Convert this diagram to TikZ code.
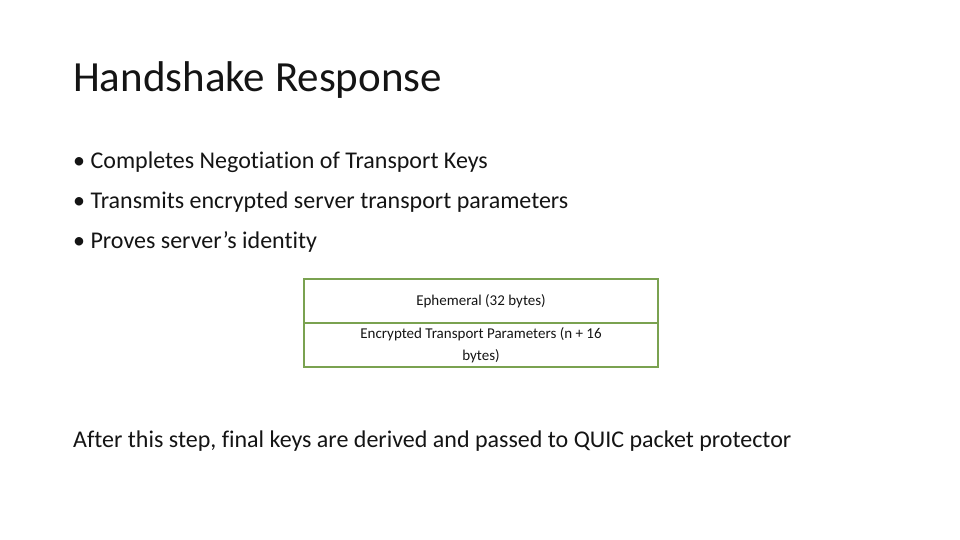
\documentclass[tikz,border=0pt]{standalone}
\usepackage{fontspec}
\setmainfont{Carlito}[Ligatures=NoCommon]
\definecolor{tgreen}{RGB}{122,162,80}
\definecolor{txt}{RGB}{20,20,20}
\begin{document}
\begin{tikzpicture}[x=1pt,y=-1pt,
  cell/.style={draw=tgreen,line width=1.5pt,minimum width=354pt,minimum height=44pt,inner sep=0pt,font=\fontsize{15}{22}\selectfont,align=center,text=txt},
  body/.style={anchor=west,inner sep=0pt,font=\fontsize{24}{28}\selectfont,text=txt}]
\useasboundingbox (0,0) rectangle (960,540);
\node[anchor=west,inner sep=0pt,font=\fontsize{43}{50}\selectfont,text=txt] (title) at (73,80) {Handshake Response};
\node[body] (b1) at (73,162) {•\ Completes Negotiation of Transport Keys};
\node[body] (b2) at (73,202) {•\ Transmits encrypted server transport parameters};
\node[body] (b3) at (73,242) {•\ Proves server’s identity};
\node[cell] (c1) at (481,301) {Ephemeral (32 bytes)};
\node[cell] (c2) at (481,345) {Encrypted Transport Parameters (n + 16\\bytes)};
\node[body] (foot) at (73,441) {After this step, final keys are derived and passed to QUIC packet protector};
\end{tikzpicture}
\end{document}
